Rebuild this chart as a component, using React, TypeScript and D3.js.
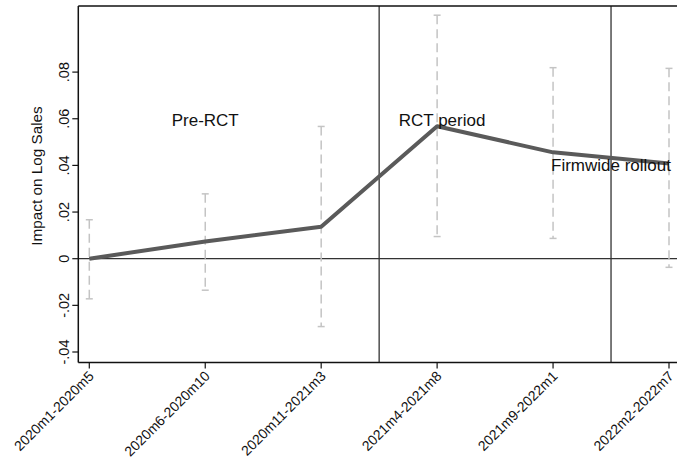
import React from "react";
import * as d3 from "d3";

const categories = [
  "2020m1-2020m5",
  "2020m6-2020m10",
  "2020m11-2021m3",
  "2021m4-2021m8",
  "2021m9-2022m1",
  "2022m2-2022m7",
];
const estimates = [0.0, 0.0074, 0.0137, 0.0568, 0.0456, 0.0408];
const ciLower = [-0.0172, -0.0135, -0.0291, 0.0095, 0.0087, -0.0037];
const ciUpper = [0.0167, 0.0278, 0.0567, 0.1044, 0.0819, 0.0816];
const yTicks = [-0.04, -0.02, 0, 0.02, 0.04, 0.06, 0.08];
const yTickLabels = ["-.04", "-.02", "0", ".02", ".04", ".06", ".08"];
const periodBreaks = [3.5, 5.5];
const annotationLabels = ["Pre-RCT", "RCT period", "Firmwide rollout"];
const annotationX = [2, 4.043, 5.5];
const annotationY = [0.06, 0.06, 0.041];
const yTitle = "Impact on Log Sales";

const W = 677;
const H = 460;
const left = 78.3;
const right = 677;
const top = 6;
const bottom = 362.5;
const FONT = "'Liberation Sans', Arial, sans-serif";

export default function App() {
  const x = d3.scaleLinear().domain([1, 6]).range([89.3, 669]);
  const y = d3.scaleLinear().domain([0, 0.08]).range([258.7, 72.1]);
  const idx = categories.map((_, i) => i + 1);

  const line = d3
    .line<number>()
    .x((_, i) => x(idx[i]))
    .y((d) => y(d));

  return (
    <svg
      width={W}
      height={H}
      style={{ position: "absolute", left: 0, top: 0, background: "#fff" }}
      fontFamily={FONT}
    >
      <rect x={0} y={0} width={W} height={H} fill="#fff" />
      {/* zero line */}
      <line x1={left} x2={right} y1={y(0)} y2={y(0)} stroke="#333" strokeWidth={1.3} />
      {/* period breaks */}
      {periodBreaks.map((b, i) => (
        <line key={i} x1={x(b)} x2={x(b)} y1={top} y2={bottom} stroke="#333" strokeWidth={1.3} />
      ))}
      {/* confidence intervals */}
      {idx.map((v, i) => (
        <g key={i} stroke="#c4c4c4" strokeWidth={1.5} fill="none">
          <line x1={x(v)} x2={x(v)} y1={y(ciUpper[i])} y2={y(ciLower[i])} strokeDasharray="9,5" />
          <line x1={x(v) - 3.5} x2={x(v) + 3.5} y1={y(ciUpper[i])} y2={y(ciUpper[i])} />
          <line x1={x(v) - 3.5} x2={x(v) + 3.5} y1={y(ciLower[i])} y2={y(ciLower[i])} />
        </g>
      ))}
      {/* estimate line */}
      <path d={line(estimates) || ""} fill="none" stroke="#5a5a5a" strokeWidth={4} strokeLinejoin="round" />
      {/* annotations */}
      {annotationLabels.map((t, i) => (
        <text
          key={i}
          x={x(annotationX[i])}
          y={y(annotationY[i])}
          dy="0.44em"
          textAnchor="middle"
          fontSize={17}
          fill="#111"
        >
          {t}
        </text>
      ))}
      {/* frame: top + left axis + bottom axis */}
      <line x1={left} x2={right} y1={top} y2={top} stroke="#111" strokeWidth={1.5} />
      <line x1={left} x2={left} y1={top} y2={bottom} stroke="#111" strokeWidth={1.5} />
      <line x1={left} x2={right} y1={bottom} y2={bottom} stroke="#111" strokeWidth={1.5} />
      {/* y ticks */}
      {yTicks.map((t, i) => (
        <g key={i}>
          <line x1={left - 6} x2={left} y1={y(t)} y2={y(t)} stroke="#111" strokeWidth={1.2} />
          <text
            transform={`translate(69,${y(t)}) rotate(-90)`}
            textAnchor="middle"
            fontSize={14.5}
            fill="#111"
          >
            {yTickLabels[i]}
          </text>
        </g>
      ))}
      {/* y title */}
      <text
        transform={`translate(42,176) rotate(-90)`}
        textAnchor="middle"
        fontSize={15.3}
        fill="#111"
      >
        {yTitle}
      </text>
      {/* x ticks */}
      {categories.map((c, i) => (
        <g key={i}>
          <line x1={x(idx[i])} x2={x(idx[i])} y1={bottom} y2={bottom + 6} stroke="#111" strokeWidth={1.2} />
          <text
            transform={`translate(${x(idx[i]) + 2},${bottom + 11}) rotate(-45)`}
            textAnchor="end"
            dy="0.35em"
            fontSize={14}
            fill="#111"
          >
            {c}
          </text>
        </g>
      ))}
    </svg>
  );
}
